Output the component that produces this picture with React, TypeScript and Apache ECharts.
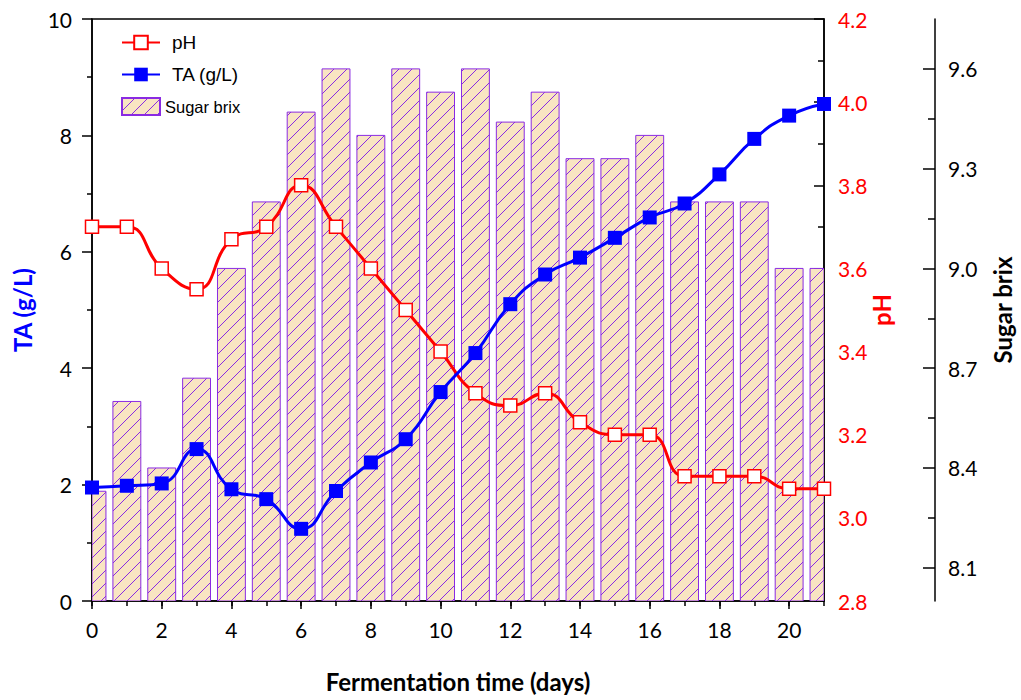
import { useEffect, useRef } from 'react';
import * as echarts from 'echarts';

const days = [0, 1, 2, 3, 4, 5, 6, 7, 8, 9, 10, 11, 12, 13, 14, 15, 16, 17, 18, 19, 20, 21];
const phValues = [3.70, 3.70, 3.60, 3.55, 3.67, 3.70, 3.80, 3.70, 3.60, 3.50, 3.40, 3.30, 3.27, 3.30, 3.23, 3.20, 3.20, 3.10, 3.10, 3.10, 3.07, 3.07];
const taValues = [1.95, 1.98, 2.02, 2.61, 1.92, 1.75, 1.24, 1.89, 2.38, 2.78, 3.59, 4.26, 5.10, 5.61, 5.90, 6.24, 6.59, 6.83, 7.33, 7.94, 8.34, 8.54];
const sugarBrix = [8.33, 8.60, 8.40, 8.67, 9.00, 9.20, 9.47, 9.60, 9.40, 9.60, 9.53, 9.60, 9.44, 9.53, 9.33, 9.33, 9.40, 9.20, 9.20, 9.20, 9.00, 9.00];
const dayTicks = [0, 2, 4, 6, 8, 10, 12, 14, 16, 18, 20];
const sugarTicks = [8.1, 8.4, 8.7, 9.0, 9.3, 9.6];
const sugarMinorTicks = [8.25, 8.55, 8.85, 9.15, 9.45];
const sugarBase = 8.0;

const BLACK = '#000000';
const NUM_FONT = 'Lato';
const BAR_EDGE = '#8A2BE2';

export default function App() {
  const ref = useRef<HTMLDivElement>(null);
  useEffect(() => {
    if (!ref.current) return;
    const chart = echarts.init(ref.current, undefined, { renderer: 'svg' });

    const s = 13;
    const canvas = document.createElement('canvas');
    canvas.width = s;
    canvas.height = s;
    const ctx = canvas.getContext('2d')!;
    ctx.fillStyle = '#F9E5C2';
    ctx.fillRect(0, 0, s, s);
    ctx.strokeStyle = BAR_EDGE;
    ctx.lineWidth = 1;
    ctx.beginPath();
    ctx.moveTo(0, s);
    ctx.lineTo(s, 0);
    ctx.moveTo(-1, 1);
    ctx.lineTo(1, -1);
    ctx.moveTo(s - 1, s + 1);
    ctx.lineTo(s + 1, s - 1);
    ctx.stroke();
    const hatch: any = { image: canvas, repeat: 'repeat', imageWidth: s, imageHeight: s };

    const lineStyle = { color: BLACK, width: 1.5 };
    const labelBase = { color: BLACK, fontFamily: NUM_FONT, fontSize: 21 };

    const renderBar = (params: any, api: any) => {
      const x = api.value(0);
      const v = api.value(1);
      const top = api.coord([x, v]);
      const bottom = api.coord([x, sugarBase]);
      const halfW = api.size([0.8, 0])[0] / 2;
      const cs = params.coordSys;
      const rect = echarts.graphic.clipRectByRect(
        { x: top[0] - halfW, y: top[1], width: halfW * 2, height: bottom[1] - top[1] },
        { x: cs.x, y: cs.y, width: cs.width, height: cs.height }
      );
      if (!rect) return null;
      return {
        type: 'rect',
        shape: rect,
        style: { fill: hatch, stroke: BAR_EDGE, lineWidth: 1 },
      };
    };

    const option: any = {
      animation: false,
      backgroundColor: '#ffffff',
      grid: {
        left: 92, right: 197, top: 19, bottom: 99,
        show: true, borderColor: BLACK, borderWidth: 1.5, backgroundColor: 'transparent',
        containLabel: false, outerBoundsMode: 'none',
      },
      legend: {
        orient: 'vertical', left: 121, top: 33, padding: 0,
        itemWidth: 38, itemHeight: 17, itemGap: 13,
        selectedMode: false,
        textStyle: { fontFamily: 'Liberation Sans', fontSize: 19, color: BLACK },
        data: [
          { name: 'pH', textStyle: { padding: [0, 0, 0, 7] } },
          { name: 'TA (g/L)', textStyle: { padding: [0, 0, 0, 7] } },
          { name: 'Sugar brix', icon: 'rect', textStyle: { fontSize: 16.5 } },
        ],
      },
      xAxis: [
        {
          type: 'value', position: 'bottom', min: 0, max: 21, interval: 2,
          axisLine: { show: true, onZero: false, lineStyle },
          axisTick: { show: true, inside: false, length: 8, lineStyle, customValues: dayTicks },
          axisLabel: { ...labelBase, margin: 18, customValues: dayTicks },
          splitLine: { show: false },
          name: 'Fermentation time (days)', nameLocation: 'middle', nameGap: 68,
          nameMoveOverlap: false,
          nameTextStyle: { color: BLACK, fontFamily: NUM_FONT, fontWeight: 'bold', fontSize: 24 },
        },
        {
          type: 'value', position: 'bottom', min: 0, max: 21, interval: 1,
          axisLine: { show: false, onZero: false },
          axisTick: { show: true, inside: false, length: 5, lineStyle },
          axisLabel: { show: false },
          splitLine: { show: false },
        },
      ],
      yAxis: [
        {
          type: 'value', position: 'left', min: 0, max: 10, interval: 2,
          axisLine: { show: true, onZero: false, lineStyle },
          axisTick: { show: true, inside: false, length: 10, lineStyle },
          minorTick: { show: true, splitNumber: 2, length: 5, lineStyle },
          axisLabel: { ...labelBase, margin: 20 },
          splitLine: { show: false }, minorSplitLine: { show: false },
          name: 'TA (g/L)', nameLocation: 'middle', nameRotate: 90, nameGap: 58,
          nameMoveOverlap: false,
          nameTextStyle: { color: '#0000FF', fontFamily: NUM_FONT, fontWeight: 'bold', fontSize: 24 },
        },
        {
          type: 'value', position: 'right', offset: 0, min: 2.8, max: 4.2, interval: 0.2,
          axisLine: { show: true, onZero: false, lineStyle },
          axisTick: { show: true, inside: true, length: 10, lineStyle },
          minorTick: { show: true, splitNumber: 2, length: 6, lineStyle },
          axisLabel: { ...labelBase, color: '#FF0000', margin: 14, formatter: (v: number) => v.toFixed(1) },
          splitLine: { show: false }, minorSplitLine: { show: false },
          name: 'pH', nameLocation: 'middle', nameRotate: 90, nameGap: 45,
          nameMoveOverlap: false,
          nameTextStyle: { color: '#FF0000', fontFamily: NUM_FONT, fontWeight: 'bold', fontSize: 24 },
        },
        {
          type: 'value', position: 'right', offset: 111, min: sugarBase, max: 9.75,
          axisLine: { show: true, onZero: false, lineStyle },
          axisTick: { show: true, inside: true, length: 12, lineStyle, customValues: sugarTicks },
          axisLabel: { ...labelBase, margin: 13, customValues: sugarTicks, formatter: (v: number) => v.toFixed(1) },
          splitLine: { show: false },
          name: 'Sugar brix', nameLocation: 'middle', nameRotate: 90, nameGap: 55,
          nameMoveOverlap: false,
          nameTextStyle: { color: BLACK, fontFamily: NUM_FONT, fontWeight: 'bold', fontSize: 24 },
        },
        {
          type: 'value', position: 'right', offset: 111, min: sugarBase, max: 9.75,
          axisLine: { show: false, onZero: false },
          axisTick: { show: true, inside: true, length: 7, lineStyle, customValues: sugarMinorTicks },
          axisLabel: { show: false },
          splitLine: { show: false },
        },
      ],
      series: [
        {
          name: 'Sugar brix', type: 'custom', xAxisIndex: 0, yAxisIndex: 2,
          renderItem: renderBar,
          encode: { x: 0, y: 1 },
          data: days.map((d, i) => [d, sugarBrix[i]]),
          itemStyle: { color: hatch, borderColor: BAR_EDGE, borderWidth: 1 },
          clip: true,
          z: 1,
        },
        {
          name: 'pH', type: 'line', xAxisIndex: 0, yAxisIndex: 1,
          smooth: 0.5, symbol: 'rect', symbolSize: 13,
          data: days.map((d, i) => [d, phValues[i]]),
          lineStyle: { color: '#FF0000', width: 3 },
          itemStyle: { color: '#FFFFFF', borderColor: '#FF0000', borderWidth: 1.5 },
          emphasis: { disabled: true },
          z: 3,
        },
        {
          name: 'TA (g/L)', type: 'line', xAxisIndex: 0, yAxisIndex: 0,
          smooth: 0.5, symbol: 'rect', symbolSize: 14,
          data: days.map((d, i) => [d, taValues[i]]),
          lineStyle: { color: '#0000FF', width: 3 },
          itemStyle: { color: '#0000FF', borderColor: '#0000FF', borderWidth: 0 },
          emphasis: { disabled: true },
          z: 4,
        },
      ],
    };
    chart.setOption(option);
    return () => chart.dispose();
  }, []);
  return <div ref={ref} style={{ position: 'absolute', left: 0, top: 0, width: 1021, height: 700 }} />;
}
